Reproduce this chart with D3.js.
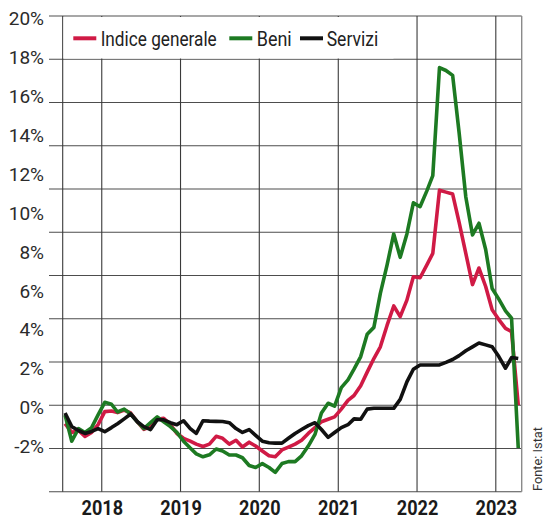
<!DOCTYPE html>
<html>
<head>
<meta charset="utf-8">
<script src="https://cdn.jsdelivr.net/npm/d3@7"></script>
<style>
  html, body { margin: 0; padding: 0; background: #fff; }
  svg { display: block; }
  text { font-family: Roboto, "Open Sans", sans-serif; }
</style>
</head>
<body>
<svg id="chart" width="544" height="520"></svg>
<script>
// Monthly year-on-year change (%), July 2017 - April 2023
const firstMonth = new Date(2017, 6, 15);

const indiceGenerale = [
  -0.95, -1.4, -1.3, -1.6, -1.4, -1.0,
  -0.33, -0.3, -0.38, -0.25, -0.4, -0.85, -1.24, -1.1, -0.72, -0.67, -1.0, -1.45,
  -1.7, -1.85, -2.0, -2.12, -2.0, -1.6, -1.7, -2.0, -1.8, -2.15, -1.9, -2.1,
  -2.35, -2.6, -2.65, -2.3, -2.15, -2.0, -1.8, -1.45, -1.15, -0.85, -0.72, -0.6,
  -0.2, 0.25, 0.5, 1.0, 1.7, 2.4, 3.0, 4.1, 5.1, 4.55, 5.4, 6.6,
  6.55, 7.2, 7.8, 11.05, 10.95, 10.85, 9.4, 7.8, 6.2, 7.05, 6.1, 4.9,
  4.4, 3.95, 3.78, 0.0
];

const beni = [
  -0.5, -1.85, -1.2, -1.4, -1.15, -0.5,
  0.15, 0.05, -0.35, -0.2, -0.45, -0.85, -1.2, -0.9, -0.6, -0.85, -1.1, -1.4,
  -1.85, -2.2, -2.5, -2.65, -2.55, -2.25, -2.35, -2.56, -2.56, -2.7, -3.1, -3.2,
  -3.0, -3.2, -3.45, -3.0, -2.9, -2.9, -2.6, -2.1, -1.5, -0.4, 0.1, -0.05,
  0.9, 1.3, 1.85, 2.5, 3.65, 4.0, 5.75, 7.2, 8.8, 7.6, 8.8, 10.4,
  10.2, 11.0, 11.8, 17.35, 17.2, 16.95, 14.0, 10.7, 8.75, 9.35, 8.0, 6.0,
  5.45, 4.85, 4.47, -2.2
];

const servizi = [
  -0.4, -1.1, -1.3, -1.45, -1.35, -1.2,
  -1.36, -1.15, -0.95, -0.7, -0.45, -0.85, -1.1, -1.25, -0.75, -0.75, -0.9, -1.0,
  -0.8, -1.2, -1.45, -0.8, -0.82, -0.83, -0.84, -0.9, -1.2, -1.4, -1.25, -1.55,
  -1.85, -1.93, -1.95, -1.95, -1.7, -1.45, -1.25, -1.05, -0.9, -1.25, -1.65, -1.4,
  -1.15, -1.0, -0.7, -0.72, -0.2, -0.16, -0.16, -0.16, -0.16, 0.3, 1.2, 1.85,
  2.07, 2.07, 2.07, 2.07, 2.2, 2.35, 2.55, 2.8, 3.0, 3.2, 3.1, 3.0,
  2.5, 1.9, 2.45, 2.4
];

const seriesNames = ["Indice generale", "Beni", "Servizi"];
const yearLabels = [2018, 2019, 2020, 2021, 2022, 2023];
const yTickValues = [20, 18, 16, 14, 12, 10, 8, 6, 4, 2, 0, -2];
const sourceNote = "Fonte: Istat";

// ---- layout and styling ----
const colors = { "Indice generale": "#d01a45", "Beni": "#1d7a22", "Servizi": "#111111" };
const plot = { left: 62.7, right: 521.7, top: 16, bottom: 491.7, gridStart: 49 };

const svg = d3.select("#chart");

const months = d3.range(indiceGenerale.length).map(i => d3.timeMonth.offset(firstMonth, i));

const x = d3.scaleTime()
  .domain([new Date(2017, 6, 4), new Date(2023, 4, 1)])
  .range([plot.left, plot.right]);

const y = d3.scaleLinear()
  .domain([-40 / 9, 20])
  .range([plot.bottom, plot.top]);

// horizontal rules: the frame is split into equal bands of 20/9 points
const ruleValues = d3.range(-2, 10).map(k => k * 20 / 9);

const grid = svg.append("g");
grid.selectAll("line.h")
  .data(ruleValues)
  .join("line")
  .attr("class", "h")
  .attr("x1", plot.gridStart).attr("x2", plot.right)
  .attr("y1", d => y(d)).attr("y2", d => y(d))
  .attr("stroke", (d, i) => i === ruleValues.length - 1 ? "#8a8a8a" : "#4d4d4d")
  .attr("stroke-width", (d, i) => i === ruleValues.length - 1 ? 1.6 : 1.1);

// year rules
const yearDates = yearLabels.map(yr => new Date(yr, 0, 1));
grid.selectAll("line.v")
  .data(yearDates)
  .join("line")
  .attr("class", "v")
  .attr("x1", d => x(d)).attr("x2", d => x(d))
  .attr("y1", plot.top).attr("y2", plot.bottom)
  .attr("stroke", "#3a3a3a")
  .attr("stroke-width", 1.1);

// left and right edges of the frame
grid.selectAll("line.edge")
  .data([plot.left, plot.right])
  .join("line")
  .attr("class", "edge")
  .attr("x1", d => d).attr("x2", d => d)
  .attr("y1", plot.top).attr("y2", plot.bottom)
  .attr("stroke", (d, i) => i === 0 ? "#3a3a3a" : "#8a8a8a")
  .attr("stroke-width", (d, i) => i === 0 ? 1.1 : 1.4);

// y-axis labels
const yAxis = svg.append("g")
  .attr("transform", `translate(44,0)`)
  .call(d3.axisLeft(y).tickValues(yTickValues).tickSize(0).tickPadding(0)
    .tickFormat(d => d + "%"));
yAxis.select(".domain").remove();
yAxis.selectAll("text")
  .attr("font-family", "'Open Sans', sans-serif")
  .attr("font-size", 19)
  .attr("fill", "#2b2b2b")
  .attr("dy", "0.45em");

// x-axis labels (years)
const xAxis = svg.append("g")
  .attr("transform", `translate(0,${plot.bottom})`)
  .call(d3.axisBottom(x).tickValues(yearDates).tickSize(0).tickPadding(0)
    .tickFormat(d3.timeFormat("%Y")));
xAxis.select(".domain").remove();
xAxis.selectAll("text")
  .attr("font-family", "Roboto, sans-serif")
  .attr("font-weight", "bold")
  .attr("font-size", 21)
  .attr("fill", "#1a1a1a")
  .attr("y", 23)
  .attr("dy", 0)
  .attr("textLength", 41.5)
  .attr("lengthAdjust", "spacingAndGlyphs");

// series lines
const series = [
  { name: seriesNames[0], values: indiceGenerale },
  { name: seriesNames[1], values: beni },
  { name: seriesNames[2], values: servizi }
];

const line = d3.line()
  .x((d, i) => x(months[i]))
  .y(d => y(d));

svg.append("g")
  .selectAll("path")
  .data(series)
  .join("path")
  .attr("d", d => line(d.values))
  .attr("fill", "none")
  .attr("stroke", d => colors[d.name])
  .attr("stroke-width", 3.6)
  .attr("stroke-linejoin", "round")
  .attr("stroke-linecap", "butt");

// legend
const legend = svg.append("g");
legend.append("rect")
  .attr("x", plot.left + 0.8).attr("y", plot.top + 1)
  .attr("width", 330).attr("height", 41.5)
  .attr("fill", "#fff");

const legendItems = [
  { name: seriesNames[0], sx: 73.3, tx: 100.7, tw: 116 },
  { name: seriesNames[1], sx: 229.3, tx: 256.7, tw: 35 },
  { name: seriesNames[2], sx: 300, tx: 326.7, tw: 51.6 }
];
legend.selectAll("line")
  .data(legendItems)
  .join("line")
  .attr("x1", d => d.sx).attr("x2", d => d.sx + 23)
  .attr("y1", 38.3).attr("y2", 38.3)
  .attr("stroke", d => colors[d.name])
  .attr("stroke-width", 4);
legend.selectAll("text")
  .data(legendItems)
  .join("text")
  .attr("x", d => d.tx)
  .attr("y", 45.6)
  .attr("font-size", 21)
  .attr("fill", "#222")
  .attr("textLength", d => d.tw)
  .attr("lengthAdjust", "spacingAndGlyphs")
  .text(d => d.name);

// source note, running up the right edge
svg.append("text")
  .attr("transform", "translate(541.5,491) rotate(-90)")
  .attr("font-size", 13.5)
  .attr("fill", "#333")
  .attr("textLength", 64)
  .attr("lengthAdjust", "spacingAndGlyphs")
  .text(sourceNote);
</script>
</body>
</html>
